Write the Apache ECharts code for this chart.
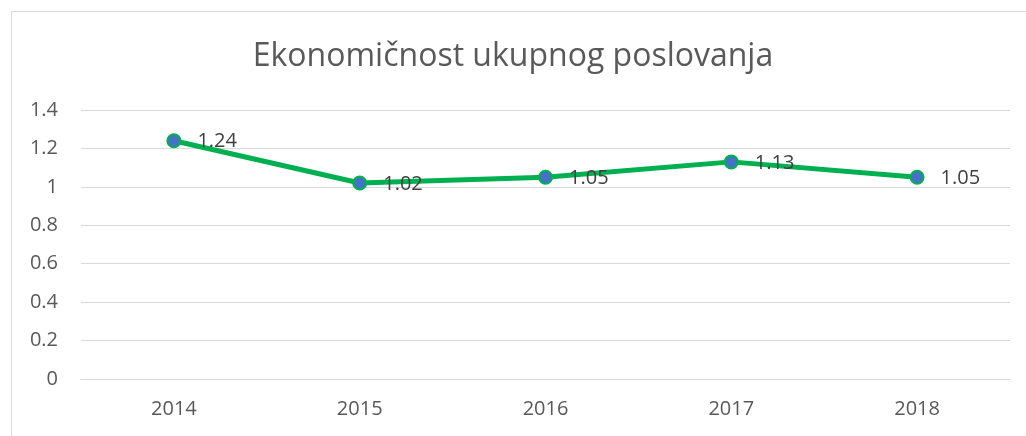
<!DOCTYPE html>
<html>
<head>
<meta charset="utf-8">
<script src="https://cdn.jsdelivr.net/npm/echarts@6/dist/echarts.min.js"></script>
<style>
  html, body { margin: 0; padding: 0; background: #fff; }
  #chart { width: 1026px; height: 436px; }
</style>
</head>
<body>
<div id="chart"></div>
<script>
const years = ['2014', '2015', '2016', '2017', '2018']
const values = [1.24, 1.02, 1.05, 1.13, 1.05]
const title = 'Ekonomičnost ukupnog poslovanja'

const chart = echarts.init(document.getElementById('chart'))
const font = '"Open Sans", "Noto Sans", sans-serif'

let option = {
  animation: false,
  backgroundColor: '#fff',
  title: {
    text: title,
    left: 'center',
    top: 36,
    textStyle: { fontFamily: font, fontSize: 32, fontWeight: 'normal', color: '#595959' }
  },
  // chart frame (right and bottom edges fall outside the picture)
  graphic: [{
    type: 'rect',
    shape: { x: 11.5, y: 11.5, width: 1100, height: 1000 },
    style: { fill: 'none', stroke: '#d9d9d9', lineWidth: 1 },
    silent: true
  }],
  grid: { left: 81, right: 16, top: 110, bottom: 57 },
  xAxis: {
    type: 'category',
    data: years,
    axisTick: { show: false },
    axisLine: { lineStyle: { color: '#d9d9d9', width: 1 } },
    axisLabel: { fontFamily: font, fontSize: 20, color: '#595959', margin: 20 }
  },
  yAxis: {
    type: 'value',
    min: 0,
    max: 1.4,
    interval: 0.2,
    axisLine: { show: false },
    axisTick: { show: false },
    splitLine: { lineStyle: { color: '#d9d9d9', width: 1 } },
    axisLabel: {
      fontFamily: font, fontSize: 20, color: '#595959', margin: 23,
      formatter: v => String(+v.toFixed(1))
    }
  },
  series: [{
    type: 'line',
    data: values,
    symbol: 'circle',
    symbolSize: 13,
    lineStyle: { color: '#00b050', width: 5 },
    itemStyle: { color: '#4472c4', borderColor: '#00b050', borderWidth: 2 },
    label: {
      show: true,
      position: 'right',
      distance: 16,
      offset: [0, 1],
      fontFamily: font,
      fontSize: 20,
      color: '#404040'
    }
  }]
}
chart.setOption(option)
</script>
</body>
</html>
